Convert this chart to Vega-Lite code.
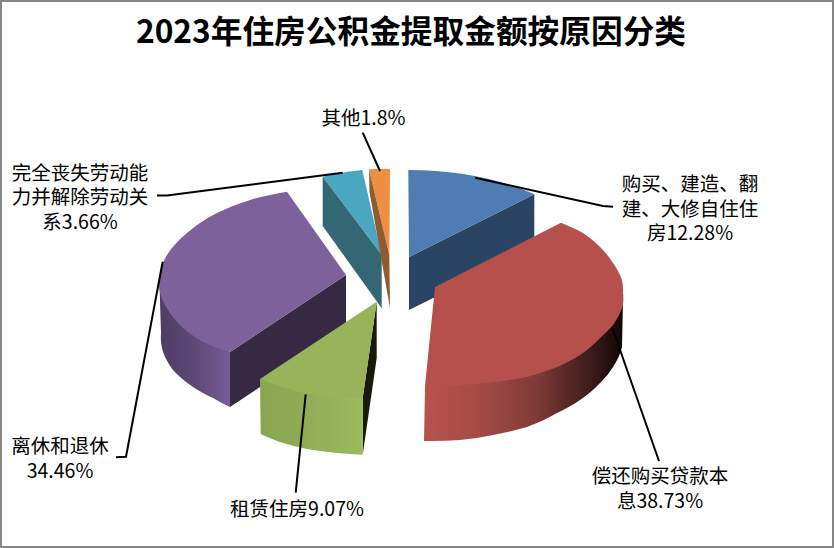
{
"$schema":"https://vega.github.io/schema/vega-lite/v6.json",
"width":832,"height":546,
"padding":{"left":1,"top":1,"right":1,"bottom":1},
"autosize":"none",
"background":"white",
"view":{"stroke":"#868686","strokeWidth":2,"fill":"white"},
"title":{"text":"2023年住房公积金提取金额按原因分类","font":"Noto Sans CJK SC","fontSize":31.7,"fontWeight":"bold","color":"black","anchor":"middle","offset":-49,"dx":-6},
"data":{"values":[
{"category":"购买、建造、翻建、大修自住住房","share":12.28,"label":"购买、建造、翻\n建、大修自住住\n房12.28%"},
{"category":"偿还购买贷款本息","share":38.73,"label":"偿还购买贷款本\n息38.73%"},
{"category":"租赁住房","share":9.07,"label":"租赁住房9.07%"},
{"category":"离休和退休","share":34.46,"label":"离休和退休\n34.46%"},
{"category":"完全丧失劳动能力并解除劳动关系","share":3.66,"label":"完全丧失劳动能\n力并解除劳动关\n系3.66%"},
{"category":"其他","share":1.8,"label":"其他1.8%"}
]},
"resolve":{"scale":{"shape":"independent","fill":"independent"}},
"layer":[
{"transform":[{"filter":{"field":"category","oneOf":["离休和退休","购买、建造、翻建、大修自住住房","租赁住房"]}}],
 "mark":{"type":"point","filled":true,"size":4,"opacity":1,"strokeWidth":0},
 "encoding":{
  "shape":{"field":"category","type":"nominal","legend":null,"scale":{"domain":["离休和退休","购买、建造、翻建、大修自住住房","租赁住房"],"range":[
   "M-187 78L-71 1L-71 56L-187 133Z",
   "M-8 -17L117.3 -79.7L117.3 -26L-8 36Z",
   "M-40.3 27.7L-54.3 124L-54.3 180.7L-40.3 84Z"]}},
  "fill":{"field":"category","type":"nominal","legend":null,"scale":{"domain":["离休和退休","购买、建造、翻建、大修自住住房","租赁住房"],"range":["#352943","#2A4464","#171A0D"]}}
 }},
{"transform":[{"filter":{"field":"category","equal":"离休和退休"}}],
 "mark":{"type":"point","filled":true,"size":4,"opacity":1,"strokeWidth":0,
  "shape":"M-187 78L-187 133A190 96 0 0 1 -204 124A190 96 0 0 1 -224 113A190 96 0 0 1 -244 96A190 96 0 0 1 -254 78A190 96 0 0 1 -256 59L-257.5 11Z",
  "fill":{"gradient":"linear","x1":0,"y1":0,"x2":1,"y2":0,"stops":[{"offset":0,"color":"#4E3D63"},{"offset":0.5,"color":"#5E4878"},{"offset":1,"color":"#775C96"}]}},
 "encoding":{}},
{"transform":[{"filter":{"field":"category","equal":"租赁住房"}}],
 "mark":{"type":"point","filled":true,"size":4,"opacity":1,"strokeWidth":0,
  "shape":"M-157 105L-156.3 160A190 96 0 0 0 -134 169A190 96 0 0 0 -110 175A190 96 0 0 0 -80 179A190 96 0 0 0 -54.3 180.7L-54.3 124Z",
  "fill":{"gradient":"linear","x1":0,"y1":0,"x2":1,"y2":0,"stops":[{"offset":0,"color":"#8BA552"},{"offset":0.4,"color":"#90AB55"},{"offset":1,"color":"#9DBA5D"}]}},
 "encoding":{}},
{"transform":[{"filter":{"field":"category","equal":"偿还购买贷款本息"}}],
 "mark":{"type":"point","filled":true,"size":4,"opacity":1,"strokeWidth":0,
  "shape":"M8 112L7 167A190 96 0 0 0 43 166A190 96 0 0 0 76 161A190 96 0 0 0 110 153A190 96 0 0 0 140 139A190 96 0 0 0 163 126A190 96 0 0 0 183 109A190 96 0 0 0 196 93A190 96 0 0 0 205 73L206 26Z",
  "fill":{"gradient":"linear","x1":0,"y1":0,"x2":1,"y2":0,"stops":[{"offset":0,"color":"#B8524E"},{"offset":0.3,"color":"#A34A46"},{"offset":0.57,"color":"#7F3A37"},{"offset":0.7,"color":"#5D2A29"},{"offset":0.85,"color":"#3A1A19"},{"offset":0.98,"color":"#140908"},{"offset":1,"color":"#140908"}]}},
 "encoding":{}},
{"mark":{"type":"point","filled":true,"size":4,"opacity":1,"strokeWidth":0},
 "encoding":{
  "shape":{"field":"category","type":"nominal","legend":null,"scale":{"domain":["购买、建造、翻建、大修自住住房","偿还购买贷款本息","租赁住房","离休和退休","完全丧失劳动能力并解除劳动关系","其他"],"range":[
   "M-8 -17L-8.7 -104A181 87 0 0 1 117.3 -79.7Z",
   "M18 13L144 -51.3A190 96 0 0 1 166 -41A190 96 0 0 1 183 -27A190 96 0 0 1 196 -11A190 96 0 0 1 205 6A190 96 0 0 1 206 19A190 96 0 0 1 206 31A190 96 0 0 1 196 51A190 96 0 0 1 183 64A190 96 0 0 1 163 81A190 96 0 0 1 140 93A190 96 0 0 1 110 103A190 96 0 0 1 76 108A190 96 0 0 1 43 111A190 96 0 0 1 8 112Z",
   "M-40.3 27.7L-54.3 124A190 96 0 0 1 -87 123A190 96 0 0 1 -110 120A190 96 0 0 1 -134 113A190 96 0 0 1 -157 105Z",
   "M-71 1L-187 78A190 96 0 0 1 -214 68A190 96 0 0 1 -234 54A190 96 0 0 1 -247 39A190 96 0 0 1 -257 19A190 96 0 0 1 -258 9A190 96 0 0 1 -250 -19A190 96 0 0 1 -230 -41A190 96 0 0 1 -200 -61A190 96 0 0 1 -167 -74A190 96 0 0 1 -130 -82.3Z",
   "M-35.3 -19L-94.3 -97.3A190 96 0 0 1 -54.7 -104Z",
   "M-27.7 -19L-48 -104.7A190 96 0 0 1 -27 -105Z"]}},
  "fill":{"field":"category","type":"nominal","legend":null,"scale":{"domain":["购买、建造、翻建、大修自住住房","偿还购买贷款本息","租赁住房","离休和退休","完全丧失劳动能力并解除劳动关系","其他"],"range":["#4F7CB3","#B5504C","#98B35A","#7D619B","#4BA7C0","#EF8F44"]}}
 }},
{"transform":[{"filter":{"field":"category","oneOf":["完全丧失劳动能力并解除劳动关系","其他"]}}],
 "mark":{"type":"point","filled":true,"size":4,"opacity":1,"strokeWidth":0},
 "encoding":{
  "shape":{"field":"category","type":"nominal","legend":null,"scale":{"domain":["完全丧失劳动能力并解除劳动关系","其他"],"range":[
   "M-94.3 -97.3L-35.3 -19L-35.3 34.3L-94.3 -48Z",
   "M-48 -104.7L-27.7 -19L-27 34L-47.5 -82Z"]}},
  "fill":{"field":"category","type":"nominal","legend":null,"scale":{"domain":["完全丧失劳动能力并解除劳动关系","其他"],"range":["#326773","#8F5C31"]}}
 }},
{"mark":{"type":"point","filled":false,"size":4,"opacity":1,"stroke":"black","strokeWidth":2},
 "encoding":{
  "shape":{"field":"category","type":"nominal","legend":null,"scale":{"domain":["购买、建造、翻建、大修自住住房","偿还购买贷款本息","租赁住房","离休和退休","完全丧失劳动能力并解除劳动关系","其他"],"range":[
   "M58 -96.3L186 -68L196 -67.3",
   "M195 53L242 187",
   "M-111.3 120.3L-121.3 218.7",
   "M-254.3 -12.3L-291 182.7L-301 183.3",
   "M-260 -78.5L-250 -78.5L-74.3 -101.3",
   "M-54.3 -141.3L-37 -103"]}}
 }},
{"mark":{"type":"text","font":"Noto Sans CJK SC","fontSize":19.5,"lineHeight":24.7,"lineBreak":"\n","align":"center","baseline":"middle","color":"black"},
 "encoding":{
  "text":{"field":"label","type":"nominal"},
  "x":{"field":"share","type":"quantitative","axis":null,"scale":{"domain":[1.8,3.66,9.07,12.28,34.46,38.73],"range":[362.5,79,296,689,59,659],"zero":false,"nice":false}},
  "y":{"field":"share","type":"quantitative","axis":null,"scale":{"domain":[1.8,3.66,9.07,12.28,34.46,38.73],"range":[117.5,172.5,509,184,446,476],"zero":false,"nice":false}}
 }}
]
}
